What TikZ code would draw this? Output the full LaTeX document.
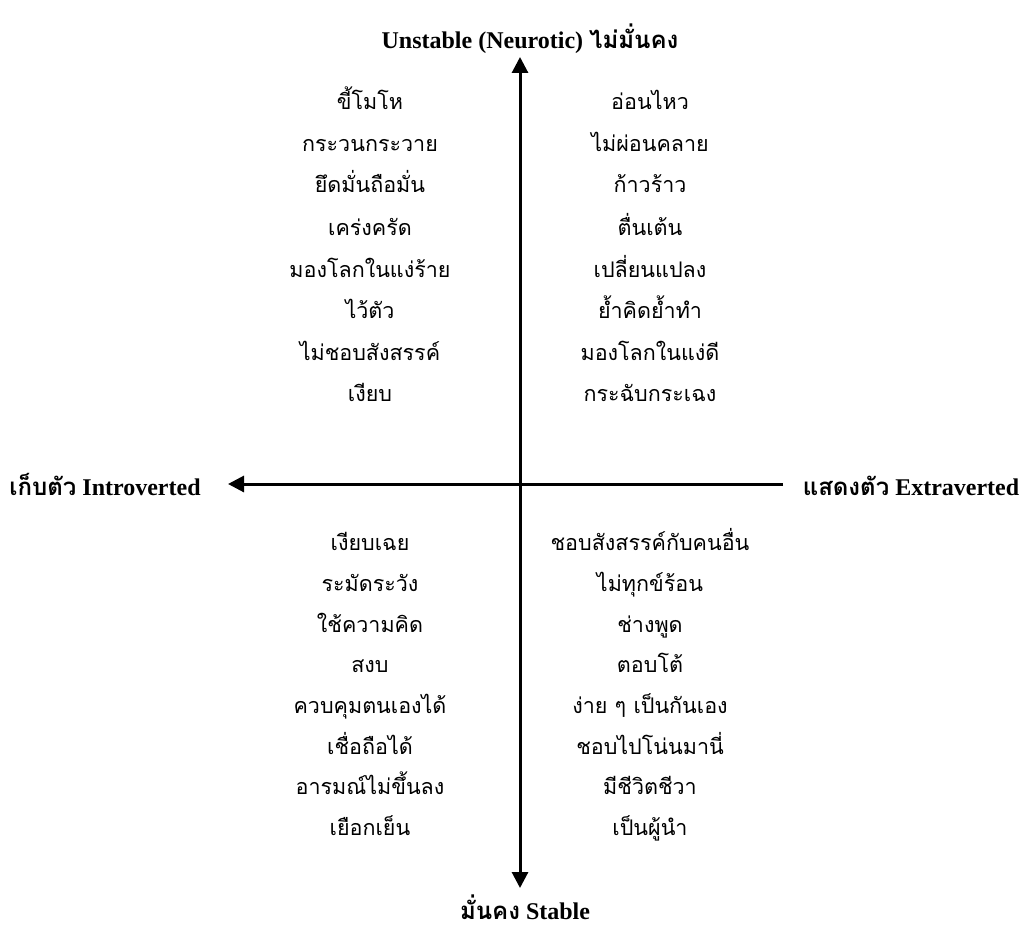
\documentclass[tikz,border=0pt]{standalone}
\usepackage{fontspec}
\setmainfont{Liberation Serif}
\newfontfamily\thaifont[Script=Thai]{Loma}
\usetikzlibrary{arrows.meta}

\begin{document}
\begin{tikzpicture}[x=1pt, y=-1pt,
  trait/.style={anchor=base, inner sep=0pt, font=\thaifont\fontsize{21.5}{26}\selectfont},
  pole/.style={anchor=base, inner sep=0pt, font=\bfseries\fontsize{24}{28}\selectfont},
  axis/.style={line width=3pt, -{Triangle[length=16pt, width=16pt]}}]
\useasboundingbox (0,0) rectangle (1024,936);
% axes
\coordinate (ntip) at (520,57);
\coordinate (stip) at (520,888);
\coordinate (wtip) at (228,484);
\coordinate (eend) at (783,484);
\draw[axis] (520,484) -- (ntip);
\draw[axis] (520,484) -- (stip);
\draw[axis] (eend) -- (wtip);
% poles
\node[pole] (unstable) at (530,49) {Unstable (Neurotic) {\thaifont ไม่มั่นคง}};
\node[pole] (stable) at (525,919) {{\thaifont มั่นคง} Stable};
\node[pole] (intro) at (105,495) {{\thaifont เก็บตัว} Introverted};
\node[pole] (extra) at (911,495) {{\thaifont แสดงตัว} Extraverted};
% unstable introvert
\node[trait] (ui1) at (370,110) {ขี้โมโห};
\node[trait] (ui2) at (370,152) {กระวนกระวาย};
\node[trait] (ui3) at (370,193) {ยึดมั่นถือมั่น};
\node[trait] (ui4) at (370,235) {เคร่งครัด};
\node[trait] (ui5) at (370,277) {มองโลกในแง่ร้าย};
\node[trait] (ui6) at (370,318) {ไว้ตัว};
\node[trait] (ui7) at (370,360) {ไม่ชอบสังสรรค์};
\node[trait] (ui8) at (370,401) {เงียบ};
% unstable extravert
\node[trait] (ue1) at (650,110) {อ่อนไหว};
\node[trait] (ue2) at (650,152) {ไม่ผ่อนคลาย};
\node[trait] (ue3) at (650,193) {ก้าวร้าว};
\node[trait] (ue4) at (650,235) {ตื่นเต้น};
\node[trait] (ue5) at (650,277) {เปลี่ยนแปลง};
\node[trait] (ue6) at (650,318) {ย้ำคิดย้ำทำ};
\node[trait] (ue7) at (650,360) {มองโลกในแง่ดี};
\node[trait] (ue8) at (650,401) {กระฉับกระเฉง};
% stable introvert
\node[trait] (si1) at (370,550) {เงียบเฉย};
\node[trait] (si2) at (370,591) {ระมัดระวัง};
\node[trait] (si3) at (370,632) {ใช้ความคิด};
\node[trait] (si4) at (370,672) {สงบ};
\node[trait] (si5) at (370,713) {ควบคุมตนเองได้};
\node[trait] (si6) at (370,754) {เชื่อถือได้};
\node[trait] (si7) at (370,794) {อารมณ์ไม่ขึ้นลง};
\node[trait] (si8) at (370,835) {เยือกเย็น};
% stable extravert
\node[trait] (se1) at (650,550) {ชอบสังสรรค์กับคนอื่น};
\node[trait] (se2) at (650,591) {ไม่ทุกข์ร้อน};
\node[trait] (se3) at (650,632) {ช่างพูด};
\node[trait] (se4) at (650,672) {ตอบโต้};
\node[trait] (se5) at (650,713) {ง่าย ๆ เป็นกันเอง};
\node[trait] (se6) at (650,754) {ชอบไปโน่นมานี่};
\node[trait] (se7) at (650,794) {มีชีวิตชีวา};
\node[trait] (se8) at (650,835) {เป็นผู้นำ};
\end{tikzpicture}
\end{document}
